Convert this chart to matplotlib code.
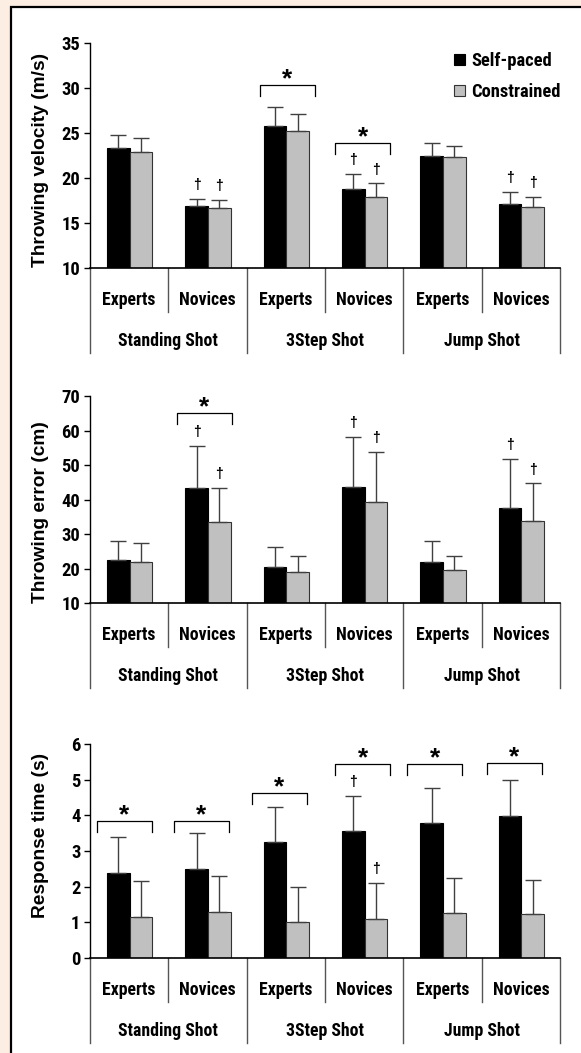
import matplotlib
matplotlib.use('Agg')
import matplotlib.pyplot as plt
from matplotlib import font_manager as fm
from matplotlib.patches import Rectangle, Patch
import matplotlib.transforms as mtrans
import numpy as np

GROUPS = ['Experts', 'Novices'] * 3
SHOTS = ['Standing Shot', '3Step Shot', 'Jump Shot']
SERIES = ['Self-paced', 'Constrained']

# throwing velocity (m/s)
VEL_SELF = [23.3, 16.9, 25.8, 18.8, 22.4, 17.1]
VEL_SELF_SD = [1.5, 0.8, 2.1, 1.7, 1.45, 1.4]
VEL_CONS = [22.9, 16.7, 25.2, 17.9, 22.3, 16.8]
VEL_CONS_SD = [1.5, 0.9, 1.9, 1.5, 1.3, 1.1]

# throwing error (cm)
ERR_SELF = [22.5, 43.5, 20.6, 43.7, 22.0, 37.5]
ERR_SELF_SD = [5.6, 12.1, 5.7, 14.4, 6.0, 14.2]
ERR_CONS = [22.0, 33.5, 19.1, 39.3, 19.7, 33.9]
ERR_CONS_SD = [5.4, 9.9, 4.6, 14.5, 4.0, 10.8]

# response time (s)
RT_SELF = [2.38, 2.49, 3.26, 3.57, 3.78, 3.99]
RT_SELF_SD = [1.02, 1.01, 0.98, 0.98, 0.98, 1.01]
RT_CONS = [1.15, 1.29, 1.01, 1.08, 1.27, 1.22]
RT_CONS_SD = [1.02, 1.02, 0.98, 1.02, 0.96, 0.97]

# dagger marks (group indices) for self-paced / constrained
VEL_DAG = ([1, 3, 5], [1, 3, 5])
ERR_DAG = ([1, 3, 5], [1, 3, 5])
RT_DAG = ([3], [3])

# significance brackets: (group, left offset in group, level)
VEL_BRK = [(2, 0.17, 30.3), (3, 0.13, 23.9)]
ERR_BRK = [(1, 0.11, 65.0)]
RT_BRK = [(0, 0.09, 3.85), (1, 0.07, 3.85), (2, 0.07, 4.64),
          (3, 0.13, 5.44), (4, 0.05, 5.44), (5, 0.07, 5.47)]

W, H = 581, 1053
BAR_W = 0.29
EDGE = '#333333'
LINE = '#555555'
GRAY = '#C0C0C0'
WIDE = ['Liberation Sans', 'DejaVu Sans']

# pick a narrow bold face if there is one
_fonts = fm.fontManager.ttflist
_names = {f.name for f in _fonts}
if 'Liberation Sans Narrow' in _names:
    NARROW = dict(family=['Liberation Sans Narrow', 'DejaVu Sans'], stretch='normal')
    NSIZE = 12.5
elif 'Roboto Condensed' in _names:
    NARROW = dict(family=['Roboto Condensed', 'DejaVu Sans'], stretch='normal')
    NSIZE = 12.8
elif any(f.name == 'DejaVu Sans' and str(f.stretch) == 'condensed' for f in _fonts):
    NARROW = dict(family=['DejaVu Sans'], stretch='condensed')
    NSIZE = 11.5
else:
    NARROW = dict(family=WIDE, stretch='normal')
    NSIZE = 10.8


def px(n, ax):
    # pixels -> axes fraction (vertical)
    return n / (ax.get_position().height * H)


def plot_panel(ax, s, s_sd, c, c_sd, ylim, step, ylabel, dags, brks, lab_y):
    x = np.arange(6)
    ekw = dict(ecolor='#404040', elinewidth=1, capsize=5.5, capthick=1)
    ax.bar(x + 0.36, s, BAR_W, color='black', edgecolor='black', lw=0.8,
           yerr=[np.zeros(6), s_sd], error_kw=ekw)
    ax.bar(x + 0.65, c, BAR_W, color=GRAY, edgecolor=EDGE, lw=0.8,
           yerr=[np.zeros(6), c_sd], error_kw=ekw)
    ax.set_xlim(0, 6)
    ax.set_ylim(*ylim)
    ax.set_yticks(np.arange(ylim[0], ylim[1] + 0.01, step))
    ax.set_xticks([])
    for sp in ['top', 'right']:
        ax.spines[sp].set_visible(False)
    ax.spines['left'].set_linewidth(1)
    ax.spines['bottom'].set_linewidth(1.2)
    ax.tick_params(axis='y', length=4, width=1, direction='out', pad=3)
    for t in ax.get_yticklabels():
        t.set_family(NARROW['family'])
        t.set_stretch(NARROW['stretch'])
        t.set_fontweight('bold')
        t.set_fontsize(NSIZE + 0.5)
    ax.set_ylabel(ylabel, family=WIDE, fontweight='bold', fontsize=13.8)
    ax.yaxis.set_label_coords(-0.087, lab_y)

    # daggers
    for idx in dags[0]:
        ax.annotate('\u2020', (idx + 0.36, s[idx] + s_sd[idx]), xytext=(0, 10),
                    textcoords='offset points', ha='center', va='center',
                    fontsize=10, fontweight='bold', family=WIDE)
    for idx in dags[1]:
        ax.annotate('\u2020', (idx + 0.65, c[idx] + c_sd[idx]), xytext=(0, 10),
                    textcoords='offset points', ha='center', va='center',
                    fontsize=10, fontweight='bold', family=WIDE)

    # brackets
    tick = 11 * (ylim[1] - ylim[0]) / (ax.get_position().height * H)
    for g, l, lev in brks:
        x0, x1 = g + l, g + l + 0.70
        ax.plot([x0, x0, x1, x1], [lev - tick, lev, lev, lev - tick],
                color='black', lw=0.9, clip_on=False)
        ax.annotate('*', ((x0 + x1) / 2, lev), xytext=(0, -1),
                    textcoords='offset points', ha='center', va='baseline',
                    fontsize=19, fontweight='bold', family=WIDE)

    # category axis below
    tr = mtrans.blended_transform_factory(ax.transData, ax.transAxes)
    for i, g in enumerate(GROUPS):
        ax.text(i + 0.5, -px(32, ax), g, transform=tr, ha='center', va='center',
                fontsize=NSIZE, fontweight='bold', **NARROW)
    for k, sh in enumerate(SHOTS):
        ax.text(2 * k + 1, -px(73, ax), sh, transform=tr, ha='center', va='center',
                fontsize=NSIZE, fontweight='bold', **NARROW)
    for b in range(7):
        depth = 85 if b % 2 == 0 else 44
        ax.plot([b, b], [0, -px(depth, ax)], transform=tr, color=LINE,
                lw=1, clip_on=False)


fig = plt.figure(figsize=(W / 100, H / 100), dpi=100)
fig.patch.set_facecolor('#FDEEE4')
fig.patches.append(Rectangle((11 / W, -0.1), 1.2, 0.1 + 1 - 7.3 / H,
                             transform=fig.transFigure, facecolor='white',
                             edgecolor='black', lw=1.6, zorder=-10))

left, width = 90 / W, 470 / W
ax1 = fig.add_axes([left, (H - 268) / H, width, 225 / H])
ax2 = fig.add_axes([left, (H - 603.3) / H, width, 207.3 / H])
ax3 = fig.add_axes([left, (H - 957.7) / H, width, 213.4 / H])
for ax in (ax1, ax2, ax3):
    ax.set_facecolor('none')

plot_panel(ax1, VEL_SELF, VEL_SELF_SD, VEL_CONS, VEL_CONS_SD, (10, 35), 5,
           'Throwing velocity (m/s)', VEL_DAG, VEL_BRK, 0.482)
plot_panel(ax2, ERR_SELF, ERR_SELF_SD, ERR_CONS, ERR_CONS_SD, (10, 70), 10,
           'Throwing error (cm)', ERR_DAG, ERR_BRK, 0.44)
plot_panel(ax3, RT_SELF, RT_SELF_SD, RT_CONS, RT_CONS_SD, (0, 6), 1,
           'Response time (s)', RT_DAG, RT_BRK, 0.571)

handles = [Patch(facecolor='black', edgecolor='black', lw=0.8),
           Patch(facecolor=GRAY, edgecolor=EDGE, lw=0.8)]
ax1.legend(handles, SERIES, loc='upper left', bbox_to_anchor=(454 / W, 1 - 52 / H),
           bbox_transform=fig.transFigure, frameon=False,
           prop=dict(weight='bold', size=NSIZE + 0.5, **NARROW),
           handlelength=0.6, handleheight=0.6, handletextpad=0.35,
           labelspacing=0.7, borderpad=0, borderaxespad=0)

fig.savefig('out.png', dpi=100, facecolor=fig.get_facecolor())
